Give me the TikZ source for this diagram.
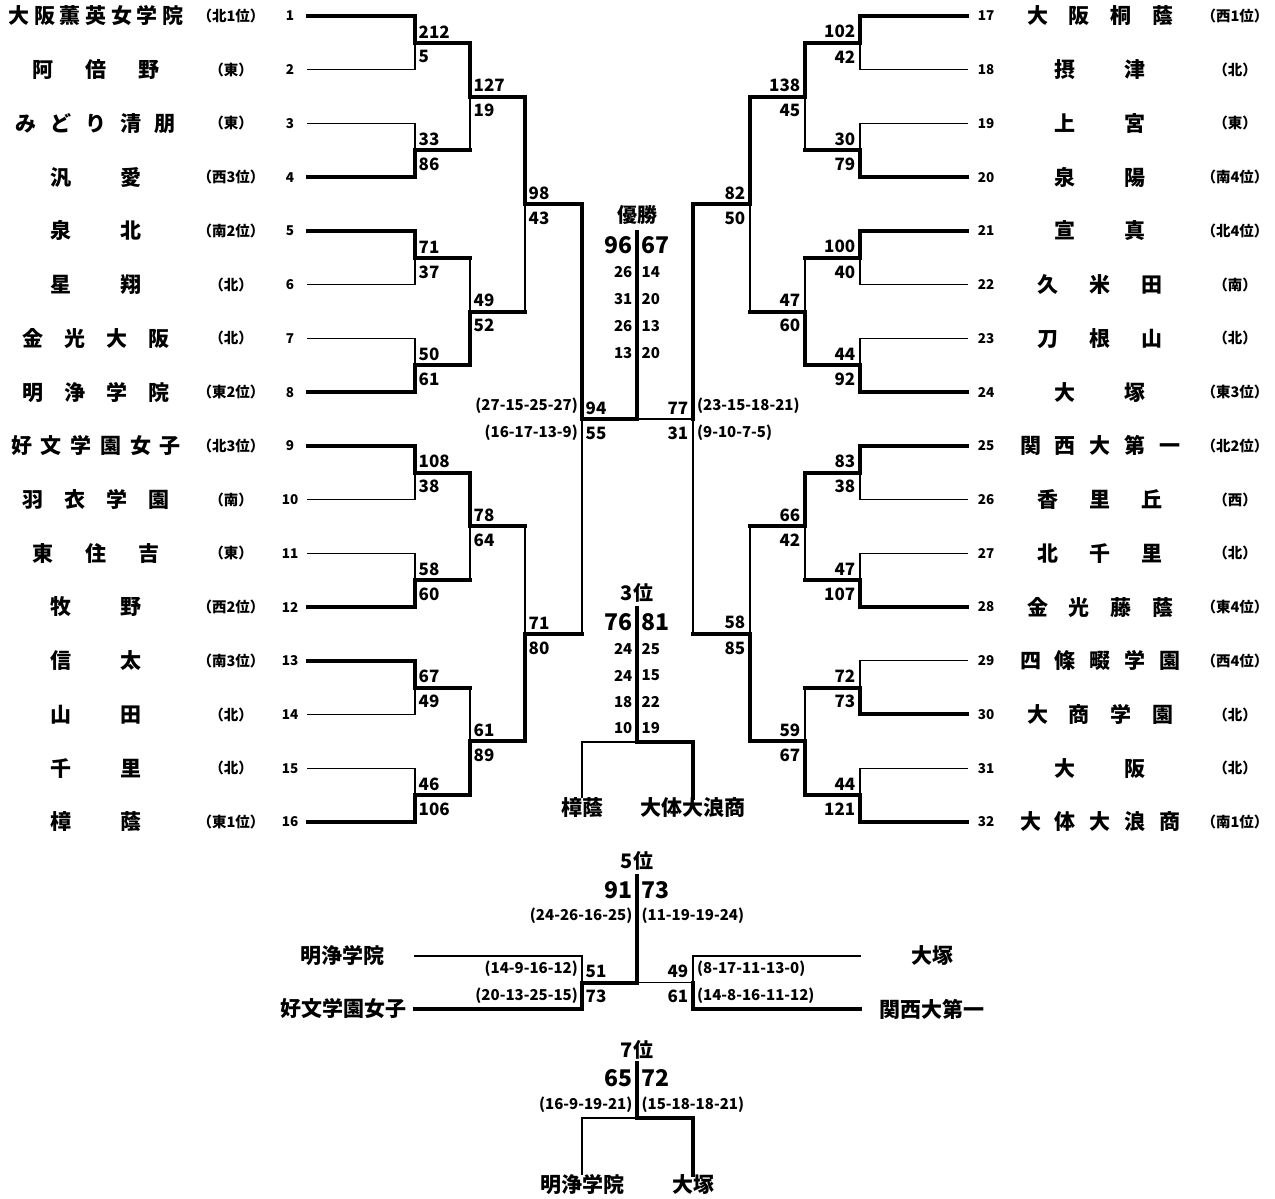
\documentclass[tikz,border=0pt]{standalone}
\usepackage{fontspec}
\setmainfont{Noto Sans CJK JP}
\usetikzlibrary{positioning}
\tikzset{
  loseline/.style={line width=1.4pt, line cap=rect},
  winline/.style={line width=4pt, line cap=rect},
  score/.style={font=\fontsize{17}{17}\selectfont\bfseries, inner sep=0pt},
  sc west/.style={xshift=3.5pt},
  sc east/.style={xshift=-4.5pt},
  bigscore/.style={font=\fontsize{23}{23}\selectfont\bfseries, inner sep=0pt},
  setscore/.style={font=\fontsize{15}{15}\selectfont\bfseries, inner sep=0pt},
  roundname/.style={font=\fontsize{20}{20}\selectfont\bfseries, inner sep=0pt},
  school/.style={font=\fontsize{21}{21}\selectfont\bfseries, inner sep=0pt},
  seed/.style={font=\fontsize{14.5}{14.5}\selectfont\bfseries, inner sep=0pt},
  entryno/.style={font=\fontsize{13.5}{13.5}\selectfont\bfseries, inner sep=0pt},
}
\def\rowh{53.73}
% one game: x, top y, bottom y, next x, top score, bottom score, side, name
\newcommand{\game}[8]{%
  \pgfmathsetmacro\ym{(#2+#3)/2}%
  \ifnum#5>#6\relax\def\yw{#2}\def\yl{#3}\else\def\yw{#3}\def\yl{#2}\fi
  \draw[loseline] (#1,\yl) -- (#1,\ym);
  \draw[winline] (#1,\yw) -- (#1,\ym) -- (#4,\ym);
  \node[score, sc #7, anchor=south #7, yshift=4.5pt] (#8a) at (#1,\ym) {#5};
  \node[score, sc #7, anchor=north #7, yshift=-7.5pt] (#8b) at (#1,\ym) {#6};
}

\begin{document}
\begin{tikzpicture}[x=1pt,y=-1pt]
  \useasboundingbox (0,0) rectangle (1275,1199);

  % Schools
  \foreach \i/\w/\tn/\rg in {1/175/大 阪 薫 英 女 学 院/北1位, 2/127/阿 倍 野/東,
      3/160/み ど り 清 朋/東, 4/92/汎 愛/西3位, 5/92/泉 北/南2位, 6/92/星 翔/北,
      7/148/金 光 大 阪/北, 8/148/明 浄 学 院/東2位, 9/170/好 文 学 園 女 子/北3位,
      10/148/羽 衣 学 園/南, 11/128/東 住 吉/東, 12/92/牧 野/西2位, 13/92/信 太/南3位,
      14/92/山 田/北, 15/92/千 里/北, 16/92/樟 蔭/東1位}{
    \pgfmathsetmacro\y{16+(\i-1)*\rowh}
    \node[school] (sch\i) at (96,\y) {\makebox[\w pt][s]{\tn}};
    \node[seed] (reg\i) at (231,\y) {（\rg）};
    \node[entryno] (no\i) at (290,\y) {\i};
  }
  \foreach \i/\w/\tn/\rg in {17/146/大 阪 桐 蔭/西1位, 18/92/摂 津/北, 19/92/上 宮/東,
      20/92/泉 陽/南4位, 21/92/宣 真/北4位, 22/125/久 米 田/南, 23/125/刀 根 山/北,
      24/92/大 塚/東3位, 25/160/関 西 大 第 一/北2位, 26/125/香 里 丘/西,
      27/125/北 千 里/北, 28/146/金 光 藤 蔭/東4位, 29/160/四 條 畷 学 園/西4位,
      30/146/大 商 学 園/北, 31/92/大 阪/北, 32/160/大 体 大 浪 商/南1位}{
    \pgfmathsetmacro\y{16+(\i-17)*\rowh}
    \node[school] (sch\i) at (1100,\y) {\makebox[\w pt][s]{\tn}};
    \node[seed] (reg\i) at (1235,\y) {（\rg）};
    \node[entryno] (no\i) at (986,\y) {\i};
  }

  % Left half
  \foreach \k/\a/\b in {1/212/5,2/33/86,3/71/37,4/50/61,5/108/38,6/58/60,7/67/49,8/46/106}{
    \pgfmathsetmacro\yt{16+(\k-1)*2*\rowh}
    \pgfmathsetmacro\yb{\yt+\rowh}
    \ifnum\a>\b\relax
      \draw[winline] (308,\yt) -- (415,\yt); \draw[loseline] (308,\yb) -- (415,\yb);
    \else
      \draw[loseline] (308,\yt) -- (415,\yt); \draw[winline] (308,\yb) -- (415,\yb);
    \fi
    \game{415}{\yt}{\yb}{470}{\a}{\b}{west}{L1-\k}
  }
  \foreach \k/\a/\b in {1/127/19,2/49/52,3/78/64,4/61/89}{
    \pgfmathsetmacro\yt{16+(\k-1)*4*\rowh+0.5*\rowh}
    \pgfmathsetmacro\yb{\yt+2*\rowh}
    \game{470}{\yt}{\yb}{525}{\a}{\b}{west}{L2-\k}
  }
  \foreach \k/\a/\b in {1/98/43,2/71/80}{
    \pgfmathsetmacro\yt{16+(\k-1)*8*\rowh+1.5*\rowh}
    \pgfmathsetmacro\yb{\yt+4*\rowh}
    \game{525}{\yt}{\yb}{582}{\a}{\b}{west}{L3-\k}
  }
  \pgfmathsetmacro\yt{16+3.5*\rowh}
  \pgfmathsetmacro\yb{\yt+8*\rowh}
  \game{582}{\yt}{\yb}{582}{94}{55}{west}{SL}

  % Right half
  \foreach \k/\a/\b in {1/102/42,2/30/79,3/100/40,4/44/92,5/83/38,6/47/107,7/72/73,8/44/121}{
    \pgfmathsetmacro\yt{16+(\k-1)*2*\rowh}
    \pgfmathsetmacro\yb{\yt+\rowh}
    \ifnum\a>\b\relax
      \draw[winline] (967,\yt) -- (860,\yt); \draw[loseline] (967,\yb) -- (860,\yb);
    \else
      \draw[loseline] (967,\yt) -- (860,\yt); \draw[winline] (967,\yb) -- (860,\yb);
    \fi
    \game{860}{\yt}{\yb}{805}{\a}{\b}{east}{R1-\k}
  }
  \foreach \k/\a/\b in {1/138/45,2/47/60,3/66/42,4/59/67}{
    \pgfmathsetmacro\yt{16+(\k-1)*4*\rowh+0.5*\rowh}
    \pgfmathsetmacro\yb{\yt+2*\rowh}
    \game{805}{\yt}{\yb}{750}{\a}{\b}{east}{R2-\k}
  }
  \foreach \k/\a/\b in {1/82/50,2/58/85}{
    \pgfmathsetmacro\yt{16+(\k-1)*8*\rowh+1.5*\rowh}
    \pgfmathsetmacro\yb{\yt+4*\rowh}
    \game{750}{\yt}{\yb}{693}{\a}{\b}{east}{R3-\k}
  }
  \pgfmathsetmacro\yt{16+3.5*\rowh}
  \pgfmathsetmacro\yb{\yt+8*\rowh}
  \game{693}{\yt}{\yb}{693}{77}{31}{east}{SR}

  % Semifinal sets
  \node[setscore, anchor=east] (sl1) at (578,406) {(27-15-25-27)};
  \node[setscore, anchor=east] (sl2) at (578,433) {(16-17-13-9)};
  \node[setscore, anchor=west] (sr1) at (697,406) {(23-15-18-21)};
  \node[setscore, anchor=west] (sr2) at (697,433) {(9-10-7-5)};

  % Final
  \coordinate (fin) at (637,419);
  \draw[winline] (582,419) -- (fin);
  \draw[loseline] (fin) -- (693,419);
  \draw[winline] (fin) -- (637,232);
  \node[roundname] (champ) at (637,215) {優勝};
  \node[bigscore, anchor=east] (fa) at (632.5,245) {96};
  \node[bigscore, anchor=west] (fb) at (641.5,245) {67};
  \foreach \j/\p/\q in {1/26/14,2/31/20,3/26/13,4/13/20}{
    \pgfmathsetmacro\y{272+(\j-1)*27}
    \node[setscore, anchor=east] (fa\j) at (632.5,\y) {\p};
    \node[setscore, anchor=west] (fb\j) at (641.5,\y) {\q};
  }

  % 3rd place
  \node[roundname] (third) at (637,593) {3位};
  \node[school] (p3l) at (582,808) {樟蔭};
  \node[school] (p3r) at (693,808) {大体大浪商};
  \coordinate (m3) at (637,742);
  \draw[loseline] (m3) -| (p3l.north);
  \draw[winline] (m3) -| (p3r.north);
  \draw[winline] (m3) -- (637,608);
  \node[bigscore, anchor=east] (ta) at (632.5,622) {76};
  \node[bigscore, anchor=west] (tb) at (641.5,622) {81};
  \foreach \j/\p/\q in {1/24/25,2/24/15,3/18/22,4/10/19}{
    \pgfmathsetmacro\y{649+(\j-1)*26.5}
    \node[setscore, anchor=east] (ta\j) at (632.5,\y) {\p};
    \node[setscore, anchor=west] (tb\j) at (641.5,\y) {\q};
  }

  % 5th place
  \node[roundname] (fifth) at (637,861) {5位};
  \node[school] (q1) at (342,956) {明浄学院};
  \node[school] (q2) at (343,1009) {好文学園女子};
  \node[school] (q3) at (932,956) {大塚};
  \node[school] (q4) at (932,1009) {関西大第一};
  \draw[loseline] (415,956) -- (582,956);
  \draw[winline] (415,1009) -- (582,1009);
  \draw[loseline] (860,956) -- (693,956);
  \draw[winline] (860,1009) -- (693,1009);
  \game{582}{956}{1009}{637}{51}{73}{west}{QL}
  \game{693}{956}{1009}{693}{49}{61}{east}{QR}
  \coordinate (m5) at (637,982.5);
  \draw[loseline] (m5) -- (693,982.5);
  \draw[winline] (m5) -- (637,876);
  \node[bigscore, anchor=east] (va) at (632.5,890) {91};
  \node[bigscore, anchor=west] (vb) at (641.5,890) {73};
  \node[setscore, anchor=east] (va1) at (632.5,916) {(24-26-16-25)};
  \node[setscore, anchor=west] (vb1) at (641.5,916) {(11-19-19-24)};
  \node[setscore, anchor=east] (ql1) at (578,969) {(14-9-16-12)};
  \node[setscore, anchor=east] (ql2) at (578,996) {(20-13-25-15)};
  \node[setscore, anchor=west] (qr1) at (697,969) {(8-17-11-13-0)};
  \node[setscore, anchor=west] (qr2) at (697,996) {(14-8-16-11-12)};

  % 7th place
  \node[roundname] (seventh) at (637,1050) {7位};
  \node[school] (p7l) at (582,1185) {明浄学院};
  \node[school] (p7r) at (693,1185) {大塚};
  \coordinate (m7) at (637,1118);
  \draw[loseline] (m7) -| (p7l.north);
  \draw[winline] (m7) -| (p7r.north);
  \draw[winline] (m7) -- (637,1063);
  \node[bigscore, anchor=east] (sa) at (632.5,1078) {65};
  \node[bigscore, anchor=west] (sb) at (641.5,1078) {72};
  \node[setscore, anchor=east] (sa1) at (632.5,1105) {(16-9-19-21)};
  \node[setscore, anchor=west] (sb1) at (641.5,1105) {(15-18-18-21)};
\end{tikzpicture}
\end{document}
